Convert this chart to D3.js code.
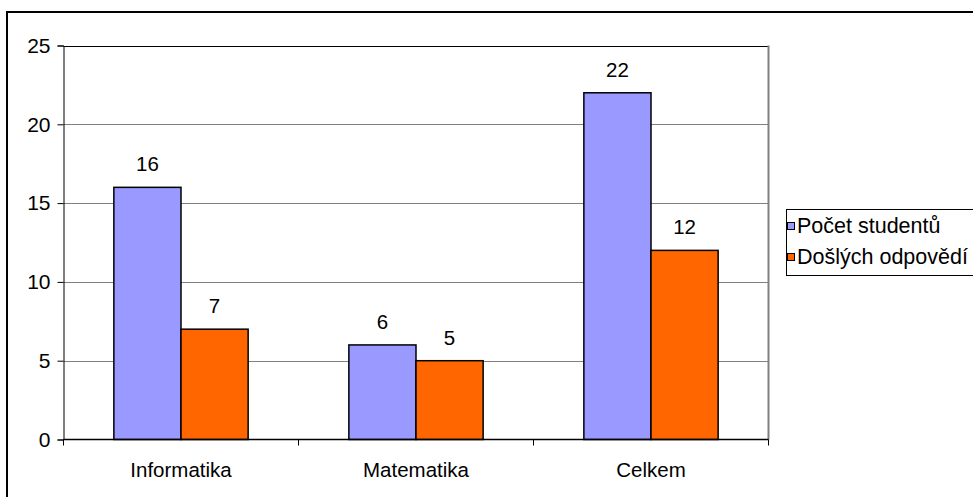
<!DOCTYPE html>
<html><head><meta charset="utf-8">
<script src="https://cdn.jsdelivr.net/npm/d3@7"></script>
<style>body{margin:0;background:#fff}svg{display:block}</style>
</head><body>
<script>
const categories = ["Informatika", "Matematika", "Celkem"];
const seriesNames = ["Počet studentů", "Došlých odpovědí"];
const studenti = [16, 6, 22];
const odpovedi = [7, 5, 12];
const yTicks = [0, 5, 10, 15, 20, 25];
const colors = ["#9999FF", "#FF6600"];

(function () {
const W = 973, H = 497;
const FONT = "'Liberation Sans', Arial, sans-serif";
const svg = d3.select("body").append("svg").attr("width", W).attr("height", H)
  .style("font-family", FONT);

// outer border (extends beyond right/bottom)
svg.append("rect").attr("x", 7).attr("y", 12).attr("width", 1000).attr("height", 600)
  .attr("fill", "none").attr("stroke", "#000").attr("stroke-width", 2);

const pLeft = 63.5, pRight = 768.5, pTop = 45.5, pBottom = 439.5;
const y = d3.scaleLinear().domain([0, 25]).range([pBottom, pTop]);
const x0 = d3.scaleBand().domain(categories).range([pLeft, pRight]).paddingInner(0.4286).paddingOuter(0.2143);
const x1 = d3.scaleBand().domain(seriesNames).range([0, x0.bandwidth()]);

// gridlines
svg.append("g").selectAll("line").data(yTicks.filter(d => d > 0)).join("line")
  .attr("x1", pLeft).attr("x2", pRight).attr("y1", d => Math.round(y(d)) + 0.5).attr("y2", d => Math.round(y(d)) + 0.5)
  .attr("stroke", d => d === 25 ? "#000" : "#808080").attr("stroke-width", 1);
// right border of plot
svg.append("line").attr("x1", pRight).attr("x2", pRight).attr("y1", pTop).attr("y2", pBottom)
  .attr("stroke", "#808080").attr("stroke-width", 2);

// y axis
const yAxis = d3.axisLeft(y).tickValues(yTicks).tickSize(6).tickPadding(7);
const gy = svg.append("g").attr("transform", `translate(${pLeft},0)`).call(yAxis);
gy.select(".domain").attr("stroke", "#000");
gy.selectAll(".tick line").attr("stroke", "#000");
gy.selectAll(".tick text").attr("font-size", "21px").attr("fill", "#000")
  .attr("font-family", FONT);

// bars
const data = categories.map((c, i) => ({c, vals: [studenti[i], odpovedi[i]]}));
const g = svg.append("g");
data.forEach(d => {
  d.vals.forEach((v, j) => {
    const bx = x0(d.c) + x1(seriesNames[j]);
    g.append("rect").attr("x", bx).attr("y", y(v)).attr("width", x1.bandwidth()).attr("height", y(0) - y(v))
      .attr("fill", colors[j]).attr("stroke", "#000").attr("stroke-width", 1.5);
    g.append("text").attr("x", bx + x1.bandwidth() / 2).attr("y", y(v) - 16)
      .attr("text-anchor", "middle").attr("font-size", "20.5px").attr("fill", "#000").text(v);
  });
});

// x axis
svg.append("line").attr("x1", pLeft).attr("x2", pRight).attr("y1", pBottom).attr("y2", pBottom).attr("stroke", "#000").attr("stroke-width", 1.5);
const bounds = [pLeft, ...categories.map(c => x0(c) + x0.bandwidth() + x0.step() * 0.4286 / 2)];
svg.append("g").selectAll("line").data(bounds).join("line")
  .attr("x1", d => d).attr("x2", d => d).attr("y1", pBottom).attr("y2", pBottom + 6).attr("stroke", "#000");
svg.append("g").selectAll("text").data(categories).join("text")
  .attr("x", d => x0(d) + x0.bandwidth() / 2).attr("y", 477)
  .attr("text-anchor", "middle").attr("font-size", "20.5px").attr("fill", "#000").text(d => d);

// legend
const lg = svg.append("g");
lg.append("rect").attr("x", 786.5).attr("y", 209.5).attr("width", 300).attr("height", 66)
  .attr("fill", "#fff").attr("stroke", "#000").attr("stroke-width", 1);
seriesNames.forEach((s, i) => {
  const yy = 222 + i * 31;
  lg.append("rect").attr("x", 787.5).attr("y", yy + 0.5).attr("width", 7).attr("height", 7)
    .attr("fill", colors[i]).attr("stroke", "#000").attr("stroke-width", 1);
  lg.append("text").attr("x", 797).attr("y", yy + 11).attr("font-size", "21.5px").attr("fill", "#000").text(s);
});
})();
</script>
</body></html>
